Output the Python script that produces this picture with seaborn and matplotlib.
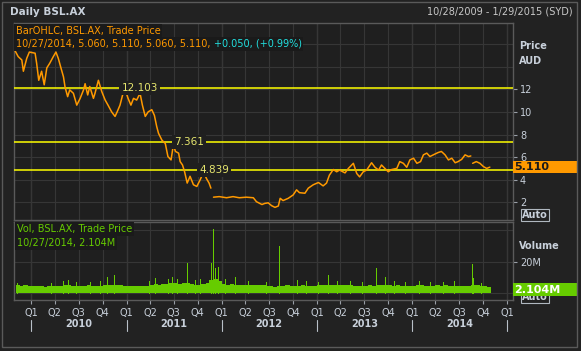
import numpy as np
import pandas as pd
import matplotlib
matplotlib.use("Agg")
import matplotlib.pyplot as plt
import matplotlib.transforms as mtransforms
from matplotlib.patches import Rectangle
import seaborn as sns

# ---------- data ----------
# daily close (AUD); None marks a break in trading
price_dates = [
    "2009-10-28", "2009-11-11", "2009-11-25", "2009-12-01", "2009-12-14", "2009-12-24",
    "2010-01-15", "2010-01-21", "2010-01-29", "2010-02-09", "2010-02-19", "2010-03-01",
    "2010-03-12", "2010-03-26", "2010-04-05", "2010-04-14", "2010-04-23", "2010-05-04",
    "2010-05-10", "2010-05-20", "2010-05-28", "2010-06-11", "2010-06-24", "2010-07-07",
    "2010-07-20", "2010-07-26", "2010-08-05", "2010-08-13", "2010-08-27", "2010-09-02",
    "2010-09-15", "2010-09-28", "2010-10-11", "2010-10-22", "2010-11-05", "2010-11-18",
    "2010-11-26", "2010-12-07", "2010-12-17", "2010-12-27",
    "2011-01-07", "2011-01-18", "2011-01-28", "2011-02-09", "2011-02-22", "2011-03-03",
    "2011-03-14", "2011-03-25", "2011-04-08", "2011-04-18", "2011-04-27", "2011-05-04",
    "2011-05-17", "2011-05-30", "2011-06-09", "2011-06-21", "2011-06-30", "2011-07-08",
    "2011-07-20", "2011-07-26", "2011-08-04", "2011-08-12", "2011-08-22", "2011-09-02",
    "2011-09-15", "2011-09-28", "2011-10-11", "2011-10-24", "2011-11-04", "2011-11-14",
    "2011-11-21", "2011-11-25",
    "2011-12-01", "2011-12-23", "2012-01-20", "2012-02-14", "2012-03-09", "2012-04-05",
    "2012-05-02", "2012-05-14", "2012-06-04", "2012-06-15", "2012-06-28", "2012-07-11",
    "2012-07-24", "2012-08-06", "2012-08-13", "2012-08-24", "2012-09-13", "2012-10-02",
    "2012-10-15", "2012-10-26", "2012-11-16", "2012-11-29", "2012-12-18",
    "2013-01-07", "2013-01-25", "2013-02-07", "2013-02-18", "2013-03-05", "2013-03-18",
    "2013-03-29", "2013-04-19", "2013-05-02", "2013-05-21", "2013-06-03", "2013-06-14",
    "2013-06-28", "2013-07-11", "2013-07-30", "2013-08-12", "2013-08-26", "2013-09-06",
    "2013-09-19", "2013-10-02", "2013-10-15", "2013-11-04", "2013-11-15", "2013-11-29",
    "2013-12-12", "2013-12-24",
    "2014-01-07", "2014-01-20", "2014-02-03", "2014-02-14", "2014-02-27", "2014-03-11",
    "2014-03-24", "2014-04-11", "2014-04-24", "2014-05-08", "2014-05-21", "2014-06-03",
    "2014-06-16", "2014-06-27", "2014-07-11", "2014-07-24", "2014-08-06", "2014-08-15",
    "2014-08-18",
    "2014-08-22", "2014-09-05", "2014-09-19", "2014-10-03", "2014-10-15", "2014-10-27",
]
price_values = [
    15.5, 14.9, 14.6, 13.6, 14.75, 15.3,
    15.2, 14.3, 12.8, 13.6, 12.4, 13.9, 14.3, 14.9, 15.3, 14.75, 14.0, 13.1,
    12.2, 11.35, 11.95, 11.65, 10.6, 11.2, 11.95, 12.5, 11.5, 12.25, 11.2, 11.65,
    12.8, 11.8, 11.05, 10.6, 10.0, 9.6, 10.0, 10.6, 11.5, 11.95,
    11.2, 10.6, 11.2, 11.05, 11.65, 10.6, 9.6, 10.0, 10.2, 9.7, 8.7, 8.1,
    7.5, 7.2, 6.05, 5.75, 7.1, 6.5, 6.35, 5.6, 5.3, 4.7, 3.7, 4.3,
    3.55, 3.4, 4.0, 4.7, 4.1, 3.7, 3.25, None,
    2.45, 2.5, 2.4, 2.5, 2.4, 2.45, 2.4, 2.05, 1.8, 1.9, 1.95, 1.7,
    1.55, 1.67, 2.35, 2.15, 2.35, 2.65, 3.1, 2.85, 2.8, 3.25, 3.55,
    3.75, 3.45, 3.7, 4.4, 4.9, 4.7, 4.85, 4.6, 5.0, 5.45, 4.55, 4.25,
    4.7, 4.85, 5.5, 5.1, 4.85, 5.3, 5.0, 4.7, 4.9, 5.0, 5.6, 5.45,
    5.1, 5.75,
    5.9, 5.45, 5.6, 6.2, 6.35, 6.05, 6.2, 6.4, 6.5, 6.2, 5.75, 5.9,
    5.5, 5.6, 5.8, 6.2, 6.05, 6.1, None,
    5.45, 5.6, 5.45, 5.15, 5.0, 5.11,
]

fib_levels = [12.103, 7.361, 4.839]
fib_label_dates = ["2011-02-21", "2011-08-28", "2011-12-04"]

# volume (millions), half-month buckets from Nov 2009 to Oct 2014
vol_values = [
    5.5, 4.6, 5.0, 4.5,
    4.5, 4.3, 4.5, 4.2, 4.7, 4.3, 4.5, 4.3, 5.3, 5.0, 4.5, 4.7,
    4.3, 4.5, 5.0, 4.7, 4.7, 4.3, 5.0, 5.5, 5.3, 5.5, 5.0, 4.5,
    4.3, 4.3, 4.3, 4.3, 4.3, 4.7, 5.5, 6.0, 5.5, 6.0, 6.0, 6.5,
    6.5, 6.0, 6.5, 6.5, 6.0, 5.5, 5.5, 6.0, 6.5, 8.5, 9.0, 7.5,
    6.0, 5.5, 6.0, 5.5, 5.5, 5.0, 5.0, 5.0, 5.5, 5.0, 5.0, 4.5,
    4.5, 4.0, 4.5, 4.5, 5.0, 4.5, 4.5, 4.7, 5.0, 4.5, 4.5, 4.7,
    5.5, 5.0, 5.0, 5.5, 5.0, 5.5, 5.0, 5.0, 5.0, 4.5, 4.5, 4.5,
    4.5, 5.0, 4.5, 5.0, 5.0, 5.0, 5.5, 4.7, 5.0, 4.5, 4.5, 4.5,
    4.5, 5.0, 5.0, 4.5, 4.5, 4.5, 5.0, 4.5, 5.0, 4.5, 4.5, 4.5,
    4.5, 4.5, 4.5, 5.5, 5.5, 4.5, 4.3, 4.0,
]
# single heavy-volume days (millions)
spike_dates = [
    "2009-11-05", "2010-03-18", "2010-05-03", "2010-05-22", "2010-06-20", "2010-08-12",
    "2010-09-20", "2010-10-17", "2010-11-14", "2011-03-30", "2011-04-20", "2011-06-10",
    "2011-06-26", "2011-07-15", "2011-08-22", "2011-09-20", "2011-10-10", "2011-11-21",
    "2011-11-29", "2011-12-06", "2011-12-18", "2012-01-15", "2012-02-20", "2012-04-10",
    "2012-06-20", "2012-08-10", "2012-10-18", "2012-11-20", "2013-01-07", "2013-02-14",
    "2013-03-20", "2013-05-10", "2013-06-25", "2013-08-15", "2013-09-19", "2013-10-25",
    "2013-12-05", "2014-01-28", "2014-03-10", "2014-05-02", "2014-06-12", "2014-08-19",
    "2014-08-25", "2014-09-25",
]
spike_values = [
    6.5, 6.5, 8.0, 8.4, 7.0, 7.0,
    7.5, 10.5, 11.6, 8.0, 9.5, 9.0,
    10.5, 9.0, 19.0, 8.5, 9.0, 19.0,
    40.7, 15.8, 16.9, 9.0, 10.2, 8.0,
    7.0, 30.0, 8.5, 7.5, 7.4, 11.6,
    8.0, 7.5, 7.0, 16.2, 10.5, 7.5,
    7.0, 7.5, 7.0, 7.0, 7.5, 18.6,
    9.5, 6.5,
]
last_price = 5.110
last_volume = 2.104
quarter_labels = ["Q1", "Q2", "Q3", "Q4"]
years = [2010, 2011, 2012, 2013, 2014]

# ---------- style ----------
BG = "#222222"
PANEL = "#1f1f1f"
GRID = "#363636"
FRAME = "#5a5a5a"
TXT = "#c8d0da"
ORANGE = "#ff9900"
GREEN = "#66cc00"
YELLOW = "#ffff00"

sns.set_theme(style="dark", rc={
    "axes.facecolor": PANEL,
    "figure.facecolor": BG,
    "grid.color": GRID,
    "grid.linewidth": 0.8,
    "axes.edgecolor": FRAME,
})
plt.rcParams["font.family"] = ["DejaVu Sans"]

W, H = 581, 351


def fx(px):
    return px / W


def fy(py):
    return 1 - py / H


fig = plt.figure(figsize=(W / 100, H / 100), dpi=100)
ax_p = fig.add_axes([fx(14), fy(220), (513 - 14) / W, (220 - 22.7) / H])
ax_v = fig.add_axes([fx(14), fy(300), (513 - 14) / W, 78 / H], sharex=ax_p)

# price frame
price_df = pd.DataFrame({"date": pd.to_datetime(price_dates), "price": price_values})
price_df["segment"] = price_df["price"].isna().cumsum()
price_df = price_df.dropna()
sns.lineplot(data=price_df, x="date", y="price", units="segment", estimator=None,
             color=ORANGE, lw=1.1, ax=ax_p, zorder=4)

quarters = pd.date_range("2010-01-01", "2015-01-01", freq="QS")
year_starts = pd.to_datetime([f"{y}-01-01" for y in years + [2015]])

for ax in (ax_p, ax_v):
    ax.set_xticks(quarters)
    ax.grid(True, axis="x", color=GRID, lw=0.8)
    for ys in year_starts:
        ax.axvline(ys, color="#444444", lw=0.9, zorder=0.5)
    ax.set_xlabel("")
    ax.set_ylabel("")
    for side in ("left", "top", "bottom", "right"):
        ax.spines[side].set_color(FRAME)
        ax.spines[side].set_linewidth(1)

ax_p.set_xlim(pd.Timestamp("2009-10-26"), pd.Timestamp("2015-01-24"))
ax_p.set_ylim(0.43, 17.9)
ax_p.yaxis.tick_right()
ax_p.set_yticks([2, 4, 6, 8, 10, 12])
ax_p.grid(True, axis="y", color=GRID, lw=0.8)
for g in (14, 16):
    ax_p.axhline(g, color=GRID, lw=0.8, zorder=0.5)
ax_p.tick_params(axis="y", colors="#9aa0a8", labelcolor=TXT, labelsize=7,
                 length=3, width=0.8, pad=2, right=True, left=False)
ax_p.tick_params(axis="x", length=0, labelbottom=False)

# retracement levels
for lvl, d in zip(fib_levels, fib_label_dates):
    ax_p.axhline(lvl, color=YELLOW, lw=1.1, zorder=3)
    ax_p.text(pd.Timestamp(d), lvl, f"{lvl:.3f}", color="#e6e66e", fontsize=7.5,
              ha="center", va="center", zorder=5,
              bbox=dict(facecolor=PANEL, edgecolor="none", pad=1.6))

# volume frame
vol_dates = pd.date_range("2009-11-01", periods=len(vol_values), freq="SMS")
ax_v.bar(vol_dates, vol_values, width=17, align="edge", color=GREEN, lw=0, zorder=3)
ax_v.vlines(pd.to_datetime(spike_dates), 0, spike_values, color=GREEN, lw=0.6,
            antialiased=False, zorder=3)
ax_v.set_ylim(-4.24, 45.1)
ax_v.yaxis.tick_right()
ax_v.set_yticks([20])
ax_v.set_yticklabels(["20M"])
ax_v.grid(True, axis="y", color=GRID, lw=0.8)
for g in (0, 40):
    ax_v.axhline(g, color=GRID, lw=0.8, zorder=0.5)
ax_v.tick_params(axis="y", colors="#9aa0a8", labelcolor=TXT, labelsize=7,
                 length=3, width=0.8, pad=2, right=True, left=False)
ax_v.set_xticklabels([quarter_labels[d.quarter - 1] for d in quarters])
ax_v.tick_params(axis="x", colors="#9aa0a8", labelcolor=TXT, labelsize=7,
                 length=3, width=0.8, pad=3, bottom=True)

# year labels under the quarters, with separators at year boundaries
trans = mtransforms.blended_transform_factory(ax_v.transData, ax_v.transAxes)
for y in years:
    mid = pd.Timestamp(f"{y}-07-02")
    ax_v.text(mid, -24 / 78, str(y), transform=trans, ha="center", va="center",
              color=TXT, fontsize=7, fontweight="bold")
for ys in year_starts:
    ax_v.plot([ys, ys], [-20 / 78, -31 / 78], transform=trans, color="#b8c0c8",
              lw=0.8, clip_on=False)

# last value markers on the right axis
tp = mtransforms.blended_transform_factory(ax_p.transAxes, ax_p.transData)
box_w = 64 / 499
ax_p.add_patch(Rectangle((1.0, last_price - 0.55), box_w, 1.1, transform=tp,
                         facecolor=ORANGE, edgecolor="none", clip_on=False, zorder=6))
ax_p.text(1.003, last_price, f"{last_price:.3f}", transform=tp, ha="left", va="center",
          color="#1a1a1a", fontsize=8, fontweight="bold", zorder=7, clip_on=False)

# "Auto" button of the volume scale sits behind the last-volume box
fig.text(fx(522), fy(297), "Auto", color=TXT, fontsize=7, fontweight="bold",
         ha="left", va="center", zorder=-1,
         bbox=dict(facecolor=BG, edgecolor="#b0b8c0", lw=0.8, pad=1))
tv = mtransforms.blended_transform_factory(ax_v.transAxes, ax_v.transData)
ax_v.add_patch(Rectangle((1.0, last_volume - 3.9), box_w, 8.2, transform=tv,
                         facecolor=GREEN, edgecolor="none", clip_on=False, zorder=6))
ax_v.text(1.003, last_volume, f"{last_volume:.3f}M", transform=tv, ha="left",
          va="center", color="white", fontsize=8, fontweight="bold", zorder=7,
          clip_on=False)

# axis captions
fig.text(fx(519), fy(46), "Price", color=TXT, fontsize=7, fontweight="bold", va="center")
fig.text(fx(519), fy(61), "AUD", color=TXT, fontsize=7, fontweight="bold", va="center")
fig.text(fx(519), fy(246), "Volume", color=TXT, fontsize=7, fontweight="bold", va="center")
fig.text(fx(522), fy(215), "Auto", color=TXT, fontsize=7, fontweight="bold",
         ha="left", va="center",
         bbox=dict(facecolor=BG, edgecolor="#b0b8c0", lw=0.8, pad=1))

# header
fig.text(fx(10), fy(12), "Daily BSL.AX", color=TXT, fontsize=7.5, fontweight="bold",
         va="center")
fig.text(fx(573), fy(12), "10/28/2009 - 1/29/2015 (SYD)", color="#c8c8c8",
         fontsize=7, ha="right", va="center")

# legends in the panels
leg_bg = dict(facecolor="#1a1a1a", edgecolor="none", pad=1.2)
fig.text(fx(16), fy(31), "BarOHLC, BSL.AX, Trade Price", color=ORANGE, fontsize=7,
         va="center", bbox=leg_bg, zorder=8)
t1 = fig.text(fx(16), fy(44), "10/27/2014, 5.060, 5.110, 5.060, 5.110, ", color=ORANGE,
              fontsize=7, va="center", bbox=leg_bg, zorder=8)
fig.canvas.draw()
ext = t1.get_window_extent()
fig.text(ext.x1 / W, fy(44), "+0.050, (+0.99%)", color="#22e0e0", fontsize=7,
         va="center", bbox=leg_bg, zorder=8)

fig.text(fx(17), fy(229), "Vol, BSL.AX, Trade Price", color=GREEN, fontsize=7,
         va="center", bbox=leg_bg, zorder=8)
fig.text(fx(17), fy(243), "10/27/2014, 2.104M", color=GREEN, fontsize=7,
         va="center", bbox=leg_bg, zorder=8)

# outer frame
fig.add_artist(Rectangle((fx(2), fy(347)), (577 - 2) / W, (347 - 2) / H,
                         transform=fig.transFigure, fill=False, edgecolor=FRAME, lw=1))

fig.savefig("out.png", dpi=100, facecolor=BG)
